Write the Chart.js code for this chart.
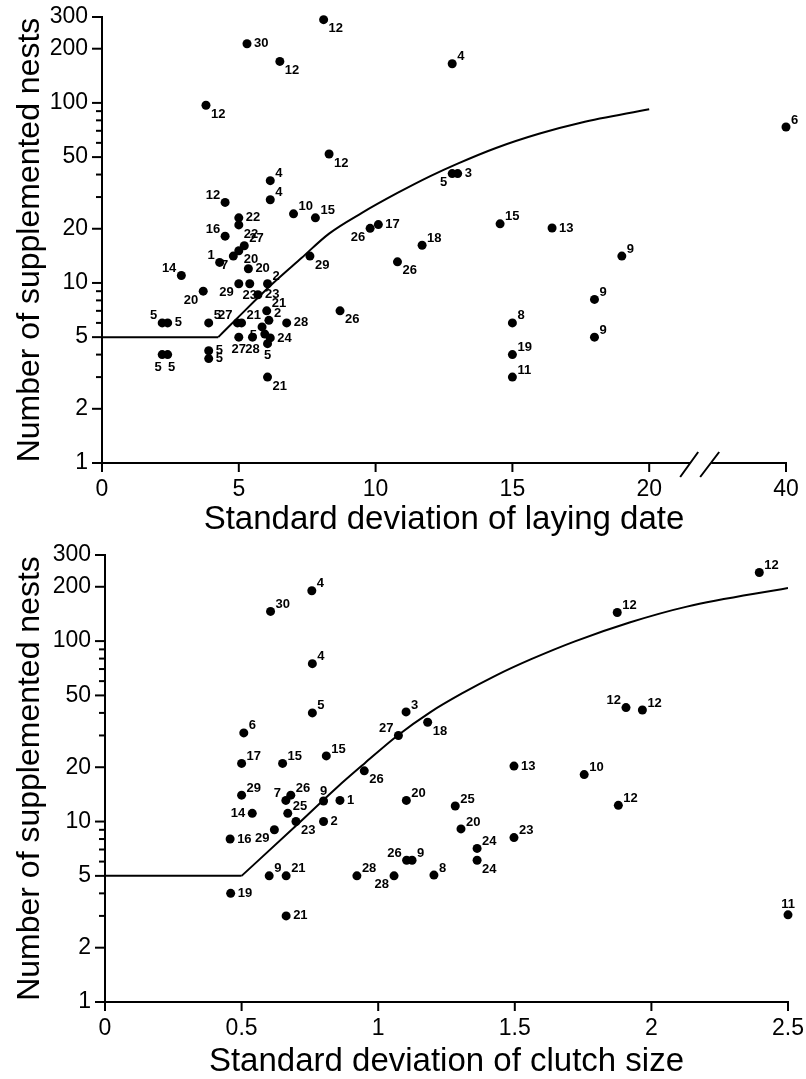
<!DOCTYPE html>
<html>
<head>
<meta charset="utf-8">
<script src="https://cdn.jsdelivr.net/npm/chart.js@4.4.0/dist/chart.umd.min.js"></script>
<style>
  html, body { margin: 0; padding: 0; background: #fff; }
  #wrap { position: relative; width: 806px; height: 1079px; }
  canvas { position: absolute; left: 0; }
</style>
</head>
<body>
<div id="wrap">
  <canvas id="layChart" width="806" height="540" style="top:0"></canvas>
  <canvas id="clutchChart" width="806" height="539" style="top:540px"></canvas>
</div>
<script>
// ---- data: laying date panel ----
const laySd = [8.1, 5.3, 6.5, 3.8, 8.3, 12.8, 12.8, 13.0, 6.15, 6.15,
  4.5, 7.0, 7.8, 5.0, 5.0, 4.5, 5.2, 5.0, 4.8, 4.3,
  5.35, 2.9, 3.7, 5.0, 5.4, 6.05, 5.7, 6.02, 2.2, 2.4,
  3.9, 4.95, 5.1, 6.1, 5.85, 6.75, 5.0, 5.5, 6.15, 5.95,
  6.05, 3.9, 3.9, 2.2, 2.4, 6.05, 7.6, 9.8, 10.1, 14.55,
  16.45, 11.7, 10.8, 8.7, 15.0, 15.0, 15.0, 40, 19.0, 18.0, 18.0];
const layNests = [290, 213, 170, 97, 52, 165, 40.5, 40.5, 37, 29,
  28, 24.2, 23, 23, 21, 18.2, 16.1, 15.1, 14.1, 13,
  12, 11, 9, 9.9, 9.9, 9.9, 8.6, 7.0, 6, 6,
  6, 6, 6, 6.2, 5.7, 6.0, 5.0, 5.0, 4.95, 5.2,
  4.6, 4.2, 3.8, 4, 4, 3, 14.1, 20.1, 21.1, 21.3,
  20.2, 16.2, 13.1, 7.0, 6.0, 4.0, 3.0, 73.5, 14.1, 8.1, 5.0];
const layLabels = ['12', '30', '12', '12', '12', '4', '5', '3', '4', '4',
  '12', '10', '15', '22', '22', '16', '27', '20', '7', '1',
  '20', '14', '20', '29', '23', '2', '23', '21', '5', '5',
  '5', '27', '21', '2', '5', '28', '27', '28', '24', '',
  '5', '5', '5', '5', '5', '21', '29', '26', '17', '15',
  '13', '18', '26', '26', '8', '19', '11', '6', '9', '9', '9'];
// fitted curve (first two points = flat part)
const layFitSd = [0, 4.25, 5, 6.2, 7.3, 8.3, 9.5, 10.8, 12, 13, 14.4, 16, 17.5, 20];
const layFitNests = [5, 5, 6.5, 9.8, 13.8, 18.8, 24.5, 31.6, 39.2, 46, 56.2, 67.6, 77.6, 92.2];
const layTicks = [0, 5, 10, 15, 20, 40];

// ---- data: clutch size panel ----
const clutchSd = [2.395, 1.875, 0.757, 0.606, 0.759, 0.759, 0.508, 1.102, 1.074, 1.181,
  1.907, 1.967, 0.5, 0.65, 0.81, 0.949, 1.497, 1.754, 0.5, 0.662,
  0.68, 0.8, 0.86, 1.103, 1.282, 1.879, 0.539, 0.669, 0.699, 0.80,
  0.62, 1.303, 1.497, 0.458, 1.362, 1.362, 1.104, 1.124, 0.601, 0.663,
  0.922, 1.058, 1.204, 0.46, 0.663, 2.5];
const clutchNests = [240, 144, 190, 146, 75, 40, 31, 40.5, 30, 35.5,
  42.8, 41.5, 21, 21, 23.1, 19.1, 20.3, 18.2, 14, 13.1,
  14, 13, 13.1, 13.1, 12.2, 12.3, 11.1, 11.1, 10, 10,
  9.0, 9.1, 8.15, 8, 7.1, 6.1, 6.1, 6.1, 5, 5,
  5, 5, 5.05, 4, 3, 3.04];
const clutchLabels = ['12', '12', '4', '30', '4', '5', '6', '3', '27', '18',
  '12', '12', '17', '15', '15', '26', '13', '10', '29', '7',
  '26', '9', '1', '20', '25', '12', '14', '25', '23', '2',
  '29', '20', '23', '16', '24', '24', '26', '9', '9', '21',
  '28', '28', '8', '19', '21', '11'];
const clutchFitSd = [0, 0.5, 0.7, 0.85, 0.95, 1.07, 1.19, 1.31, 1.43, 1.56, 1.72, 1.92, 2.13, 2.5];
const clutchFitNests = [5, 5, 9.5, 15.5, 21, 29.9, 40.3, 51.6, 64.4, 79.4, 99.7, 126.8, 155.3, 197];
const clutchTicks = [0, 0.5, 1, 1.5, 2, 2.5];

// y axis (both panels)
const nestTicks = [1, 2, 3, 4, 5, 6, 7, 8, 9, 10, 20, 30, 40, 50, 60, 70, 80, 90, 100, 200, 300];
const nestTickLabels = [1, 2, 5, 10, 20, 50, 100, 200, 300];

// label placement next to each dot (layout only)
const layLabelPos = ['lr', 'r', 'lr', 'lr', 'lr', 'ur', 'll', 'r', 'ur', 'ur',
  'ul', 'ur', 'ur', 'r', 'lr', 'ul', 'ur', 'lr', 'll', 'ul',
  'r', 'ul', 'll', 'll', 'd', 'ur', 'r', 'ur', 'ul', 'r',
  'ur', 'ul', 'ur', 'ur', 'll', 'r', 'd', 'd', 'r', 'r',
  'd', 'r', 'r', 'dl', 'dr', 'lr', 'lr', 'll', 'r', 'ur',
  'r', 'ur', 'lr', 'lr', 'ur', 'ur', 'ur', 'ur', 'ur', 'ur', 'ur'];
const clutchLabelPos = ['ur', 'ur', 'ur', 'ur', 'ur', 'ur', 'ur', 'ur', 'ul', 'lr',
  'ul', 'ur', 'ur', 'ur', 'ur', 'lr', 'r', 'ur', 'ur', 'ul',
  'ur', 'u', 'r', 'ur', 'ur', 'ur', 'l', 'ur', 'lr', 'r',
  'll', 'ur', 'ur', 'r', 'ur', 'lr', 'ul', 'ur', 'ur', 'ur',
  'ur', 'll', 'ur', 'r', 'r', 'u'];

const FONT = '"Liberation Sans", Arial, Helvetica, sans-serif';

// broken x axis on the laying date panel: 20..40 squeezed into 20..25
const brk = v => v > 20 ? 20 + (v - 20) / 4 : v;
const unbrk = v => v > 20 ? 20 + (v - 20) * 4 : v;

const OFF = {
  r: [7, 0, 'left'], l: [-7, 0, 'right'],
  ur: [5, -7, 'left'], lr: [5, 9, 'left'],
  ul: [-5, -7, 'right'], ll: [-5, 9, 'right'],
  u: [0, -10, 'center'], d: [0, 12, 'center'],
  dl: [-4, 13, 'center'], dr: [4, 13, 'center']
};

// axis ticks (outward, major longer), point labels, axis break
const decor = {
  id: 'decor',
  afterDraw(chart, args, opts) {
    const ctx = chart.ctx;
    const xs = chart.scales.x, ys = chart.scales.y;
    const area = chart.chartArea;
    ctx.save();
    ctx.strokeStyle = '#000';
    ctx.lineWidth = 2;
    ys.ticks.forEach(t => {
      const py = ys.getPixelForValue(t.value);
      const len = nestTickLabels.includes(t.value) ? 10 : 6;
      ctx.beginPath();
      ctx.moveTo(area.left - len, py);
      ctx.lineTo(area.left, py);
      ctx.stroke();
    });
    xs.ticks.forEach(t => {
      const px = xs.getPixelForValue(t.value);
      ctx.beginPath();
      ctx.moveTo(px, area.bottom);
      ctx.lineTo(px, area.bottom + 9);
      ctx.stroke();
    });

    if (opts.brk) {
      const cx = xs.getPixelForValue(21.9);
      const by = area.bottom;
      ctx.fillStyle = '#fff';
      ctx.fillRect(cx - 11, by - 3, 21, 6);
      ctx.beginPath();
      ctx.moveTo(cx - 21, by + 14); ctx.lineTo(cx - 3, by - 11);
      ctx.moveTo(cx - 1, by + 14); ctx.lineTo(cx + 18, by - 11);
      ctx.stroke();
    }

    const meta = chart.getDatasetMeta(0);
    ctx.fillStyle = '#000';
    ctx.font = 'bold 13px ' + FONT;
    ctx.textBaseline = 'middle';
    meta.data.forEach((pt, i) => {
      const txt = opts.labels[i];
      if (!txt) return;
      const o = OFF[opts.pos[i]] || OFF.r;
      ctx.textAlign = o[2];
      ctx.fillText(txt, pt.x + o[0], pt.y + o[1]);
    });
    ctx.restore();
  }
};

function makePanel(id, cfg) {
  const pts = cfg.sd.map((x, i) => ({ x: cfg.mapX(x), y: cfg.nests[i] }));
  const fit = cfg.fitSd.map((x, i) => ({ x: cfg.mapX(x), y: cfg.fitNests[i] }));
  const lineStyle = { showLine: true, borderColor: '#000', borderWidth: 2, pointRadius: 0, fill: false };
  return new Chart(document.getElementById(id).getContext('2d'), {
    type: 'scatter',
    data: {
      datasets: [{
        data: pts,
        pointRadius: 4.5,
        pointBackgroundColor: '#000',
        pointBorderWidth: 0,
        clip: false
      },
      Object.assign({ data: fit.slice(0, 2), tension: 0 }, lineStyle),
      Object.assign({ data: fit.slice(1), cubicInterpolationMode: 'monotone' }, lineStyle)]
    },
    plugins: [decor],
    options: {
      responsive: false,
      animation: false,
      events: [],
      layout: { padding: cfg.padding },
      plugins: {
        legend: { display: false },
        tooltip: { enabled: false },
        decor: { labels: cfg.labels, pos: cfg.pos, brk: cfg.brk }
      },
      scales: {
        x: {
          type: 'linear',
          min: cfg.xMin,
          max: cfg.xMax,
          afterBuildTicks: s => { s.ticks = cfg.xTicks.map(v => ({ value: cfg.mapX(v) })); },
          afterFit: s => { s.height = 77; },
          // tick marks are drawn by the plugin; tickLength only spaces the labels
          grid: { display: false, drawTicks: true, tickLength: 13 },
          border: { display: true, color: '#000', width: 2 },
          ticks: {
            color: '#000', padding: 0, autoSkip: false, maxRotation: 0,
            font: { family: FONT, size: 23 },
            callback: v => String(cfg.unmapX(v))
          },
          title: {
            display: true, text: cfg.xTitle, color: '#000',
            font: { family: FONT, size: 33 },
            padding: { top: 0, bottom: cfg.titlePad }
          }
        },
        y: {
          type: 'logarithmic',
          min: 1,
          max: 300,
          afterBuildTicks: s => { s.ticks = nestTicks.map(v => ({ value: v })); },
          afterFit: s => { s.width = cfg.yWidth; },
          grid: { display: false, drawTicks: true, tickLength: 14 },
          border: { display: true, color: '#000', width: 2 },
          ticks: {
            color: '#000', padding: 0, autoSkip: false,
            font: { family: FONT, size: 23 },
            callback: v => nestTickLabels.includes(v) ? String(v) : ''
          },
          title: {
            display: true, text: 'Number of supplemented nests', color: '#000',
            font: { family: FONT, size: 32 },
            padding: { top: 11, bottom: 0 }
          }
        }
      }
    }
  });
}

makePanel('layChart', {
  sd: laySd, nests: layNests, labels: layLabels, pos: layLabelPos,
  fitSd: layFitSd, fitNests: layFitNests,
  xTicks: layTicks, xMin: 0, xMax: 25, mapX: brk, unmapX: unbrk, brk: true,
  xTitle: 'Standard deviation of laying date', titlePad: 0,
  yWidth: 102, padding: { top: 17, right: 20, bottom: 0, left: 0 }
});

makePanel('clutchChart', {
  sd: clutchSd, nests: clutchNests, labels: clutchLabels, pos: clutchLabelPos,
  fitSd: clutchFitSd, fitNests: clutchFitNests,
  xTicks: clutchTicks, xMin: 0, xMax: 2.5, mapX: v => v, unmapX: v => v, brk: false,
  xTitle: 'Standard deviation of clutch size', titlePad: -3,
  yWidth: 105, padding: { top: 15, right: 18, bottom: 0, left: 0 }
});
</script>
</body>
</html>
